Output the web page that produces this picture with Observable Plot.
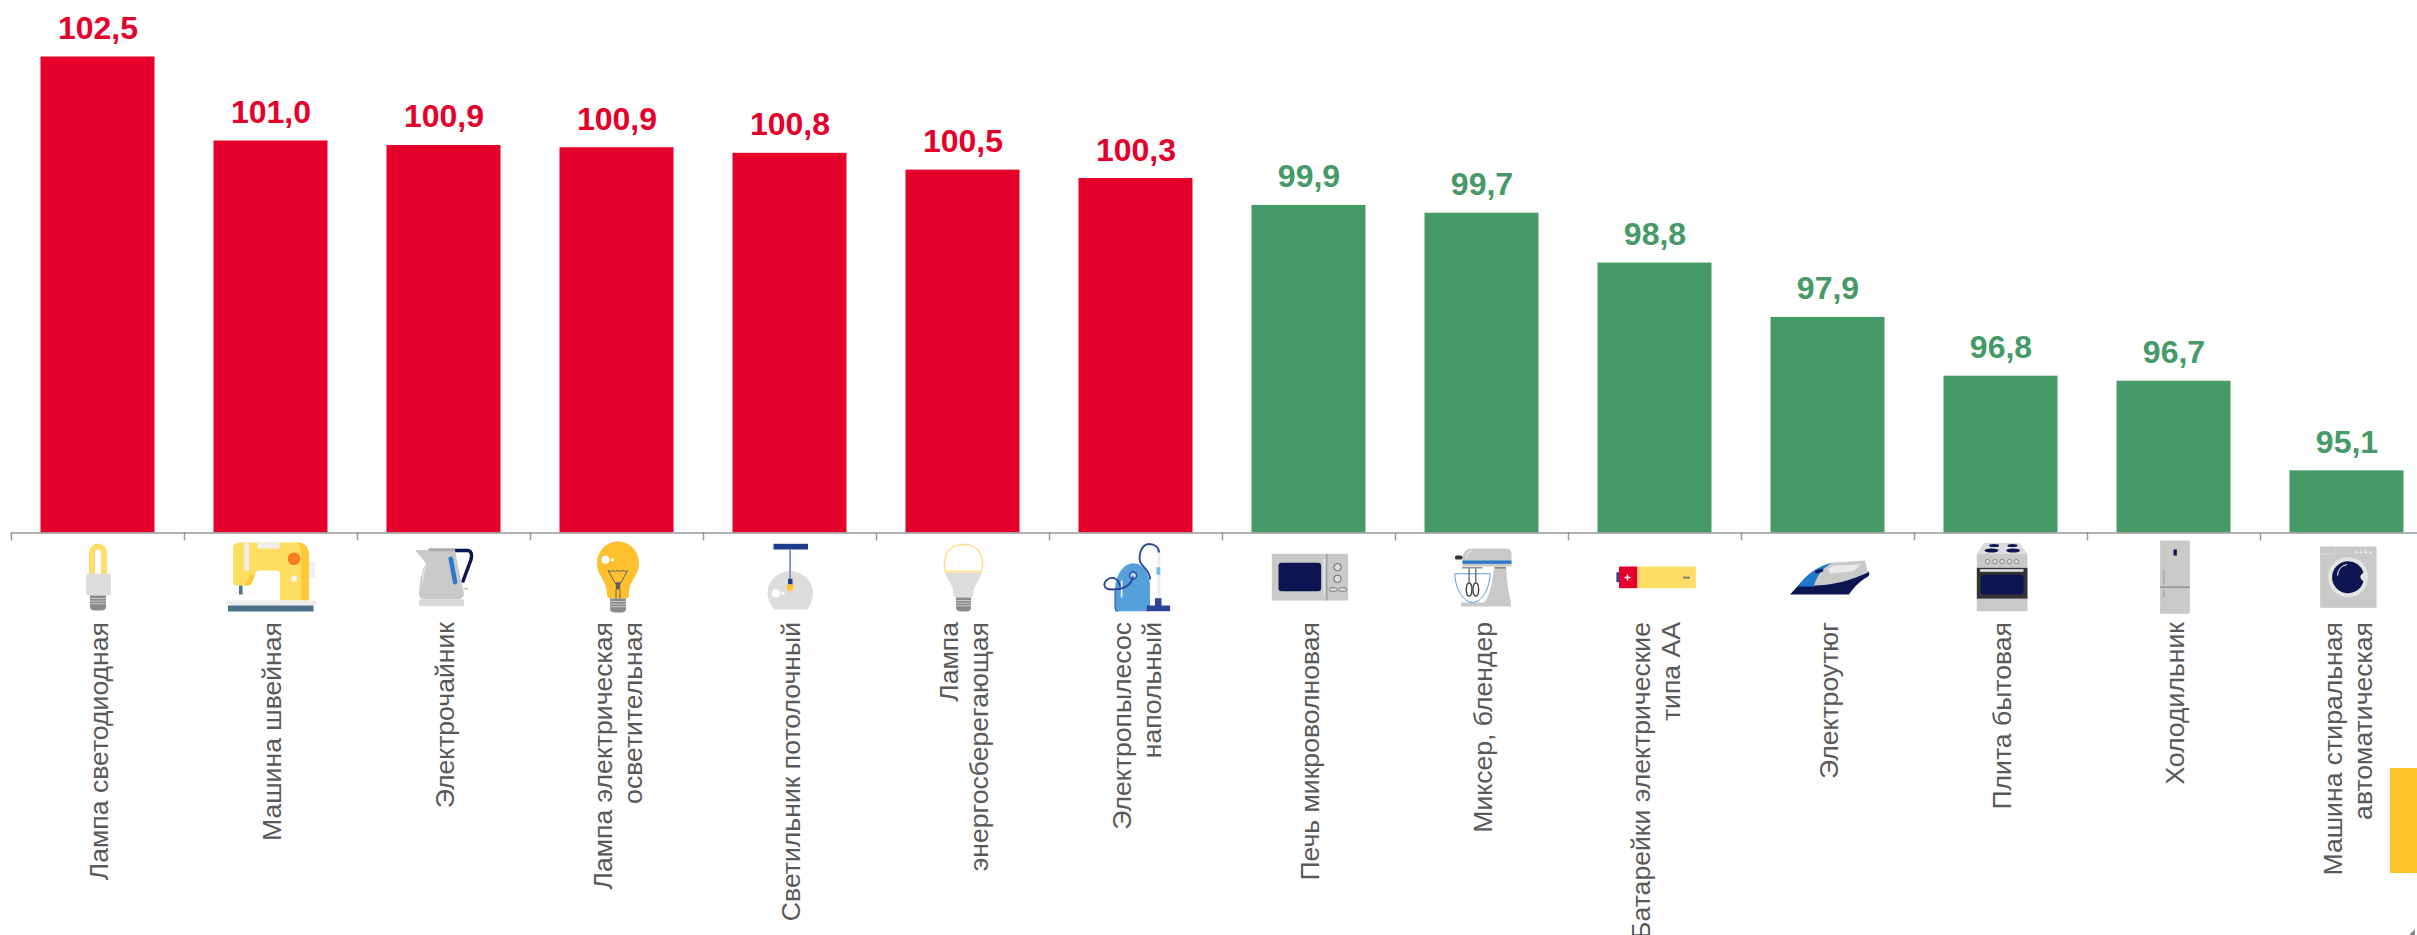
<!DOCTYPE html>
<html lang="ru">
<head>
<meta charset="utf-8">
<title>Индексы цен на электротовары</title>
<script src="https://cdn.jsdelivr.net/npm/d3@7"></script>
<script src="https://cdn.jsdelivr.net/npm/@observablehq/plot@0.6"></script>
<style>
html,body{margin:0;padding:0;background:#fff;overflow:hidden;width:2417px;height:935px}
#chart{position:absolute;left:0;top:0}
#chart svg{display:block;background:#fff}
.tab{position:absolute;left:2390px;top:768px;width:27px;height:105px;background:#FFC32B}
.corner{position:absolute;left:2409px;top:929px;width:6px;height:6px;background:#8a8a8a;clip-path:polygon(100% 0,100% 100%,0 100%)}
</style>
</head>
<body>
<div id="chart"></div>
<div class="tab"></div>
<div class="corner"></div>
<script>
const categories = [
  "Лампа светодиодная",
  "Машина швейная",
  "Электрочайник",
  "Лампа электрическая\nосветительная",
  "Светильник потолочный",
  "Лампа\nэнергосберегающая",
  "Электропылесос\nнапольный",
  "Печь микроволновая",
  "Миксер, блендер",
  "Батарейки электрические\nтипа АА",
  "Электроутюг",
  "Плита бытовая",
  "Холодильник",
  "Машина стиральная\nавтоматическая"
];
const values = [102.5, 101.0, 100.92, 100.88, 100.78, 100.48, 100.33, 99.85, 99.71, 98.82, 97.85, 96.8, 96.71, 95.11];
const valueLabels = ["102,5","101,0","100,9","100,9","100,8","100,5","100,3","99,9","99,7","98,8","97,9","96,8","96,7","95,1"];

const G="#C9C9C7",L="#DEDDDC",N="#0C1550",B="#2A4593",Y="#FFDD66";
const screw=(x,y,w,h)=>{let s=`<path d="M${x} ${y}h${w}v${h-4}q0 4-5 4h-${w-10}q-5 0-5-4z" fill="#8a8a8a"/>`;
  for(let i=1;i<4;i++)s+=`<rect x="${x}" y="${y+i*2.6}" width="${w}" height="0.9" fill="#d0d0d0"/>`;return s;};
const icons = [
  // лампа светодиодная
  `<path d="M54 42V20a6 6 0 0 1 12 0V42" fill="none" stroke="${Y}" stroke-width="6"/><rect x="48" y="41" width="25" height="22" rx="3" fill="${L}"/>${screw(52,63,16,15)}`,
  // машина швейная
  `<path d="M28 10H86Q98 10 98 24V68H69V42Q69 38 65 38H48Q45 38 44 42L41 50Q40 53 36 53H26Q22 53 22 49V16Q22 10 28 10Z" fill="#FFDD60"/><path d="M86 10Q98 10 98 24V68H90.500V24Q90 14 86 10Z" fill="#FFC933"/><path d="M44 42L41 50Q40 53 36 53H33Q37 50 39 42Z" fill="#FFC933"/><rect x="33" y="10" width="5" height="28" fill="#eee"/><rect x="46.500" y="10" width="22" height="6" fill="#eee"/><rect x="98" y="29" width="6" height="16" fill="#f0f0f0"/><circle cx="83" cy="26.300" r="6.300" fill="#FC7B1B"/><circle cx="83" cy="46.300" r="3" fill="#f2f2f2"/><rect x="28" y="53" width="3.500" height="9" fill="#4A7488"/><rect x="14" y="68" width="92" height="5" rx="2.500" fill="#EEE"/><rect x="17" y="73" width="85.500" height="6" fill="#4B7388"/>`,
  // электрочайник
  `<path d="M71 18H84Q89 19 87 27L78.500 50" fill="none" stroke="${N}" stroke-width="3.500"/><path d="M31 17.500H71Q75 40 80 60Q80 67 74 67H41Q35 67 35 60Q37 38 42 31Z" fill="${G}"/><rect x="44.500" y="15.700" width="26.500" height="3" rx="1" fill="#aaa"/><rect x="35" y="67" width="45" height="6.700" fill="#d8d8d8"/><path d="M66.800 26.300L71.100 49.700" stroke="#2A78C9" stroke-width="4.500" stroke-linecap="round"/><path d="M42 32Q39 40 38.500 50" fill="none" stroke="#eee" stroke-width="1"/><rect x="80.500" y="55.800" width="3.500" height="1" fill="#6BBF4A"/>`,
  // лампа электрическая
  `<path d="M61 9C73 9 82 19 82 31C82 44 72 47 72 62Q72 66 68 66H54Q50 66 50 62C50 47 40 44 40 31C40 19 49 9 61 9Z" fill="#FFC02F"/>${screw(53,66,16,14)}<circle cx="48.500" cy="27.300" r="4" fill="#fff"/><circle cx="55.500" cy="27.300" r="1.500" fill="#fff"/><path d="M51 38l2.500 1 2.500-1 2.500 1 2.500-1 2.500 1 2.500-1 2.500 1 1-1M51 38L59 52M70.500 38L63 52M59 57V66M63 57V66" fill="none" stroke="#5f5f5f" stroke-width="1"/><rect x="58.800" y="49.700" width="4.300" height="7.300" fill="#5f5f5f"/>`,
  // светильник потолочный
  `<path d="M44 77Q37.500 68 37.500 61C37.500 48 48 38.700 60.300 38.700C72.500 38.700 83 48 83 61Q83 68 77.500 77Z" fill="${L}"/><rect x="43.500" y="11.300" width="34.500" height="5.700" fill="#1F3D8A"/><rect x="59.300" y="17" width="1.600" height="31" fill="#6F86BB"/><rect x="58" y="46.300" width="4.500" height="6" fill="#1F3D8A"/><circle cx="60.100" cy="55" r="3.500" fill="#FFC02F"/><circle cx="46.100" cy="60.700" r="4.300" fill="#fff"/><circle cx="53.100" cy="60.700" r="1.500" fill="#fff"/>`,
  // лампа энергосберегающая
  `<path d="M42.100 39.700H78.800C76 50 70.500 52 70.500 62Q70.500 65 67 65H54Q50.500 65 50.500 62C50.500 52 45 50 42.100 39.700Z" fill="${L}"/><path d="M42.500 39C40 30 41 11.800 60.500 11.800C80 11.800 81 30 78.500 39Z" fill="#fff" stroke="#FFE396" stroke-width="1.800"/>${screw(53,65,15,14)}`,
  // электропылесос
  `<rect x="81.500" y="18" width="2.800" height="48" fill="#eee"/><rect x="80.500" y="34.700" width="3.800" height="7.500" fill="#6CB8E6"/><path d="M39 78.700V58C39 42 48 30.700 57 30.700C68 30.700 74 42 74 54V78.700Z" fill="#559FDA"/><path d="M39 58V76Q39 78.700 42 78.700" fill="none" stroke="#2A4593" stroke-width="1"/><rect x="44.800" y="48" width="1.700" height="17" fill="#eee"/><circle cx="57.100" cy="43" r="3.500" fill="#fff" fill-opacity=".6" stroke="${B}" stroke-width="1.500"/><path d="M57 44C55 55 44 57 36 57C27 57 26 50 33 46C38 44 43 47 44 54" fill="none" stroke="${B}" stroke-width="1.800"/><path d="M74 47C75 40 68 35 65 31C62 26 64 12 73 11.500C79 11.500 83 15 83 20" fill="none" stroke="${B}" stroke-width="1.800"/><rect x="79" y="65.700" width="6.500" height="9" fill="${B}"/><rect x="70.800" y="73" width="23.300" height="5.700" fill="${B}"/>`,
  // печь микроволновая
  `<rect x="22.800" y="21.300" width="76.300" height="46.700" fill="${G}"/><rect x="29.500" y="30.300" width="42.600" height="28.400" rx="3" fill="${N}"/><rect x="74.300" y="26" width="1.500" height="37" fill="#e6e6e6"/><rect x="77" y="21.300" width="1.600" height="46.700" fill="#a5a5a5"/><circle cx="88.500" cy="34.700" r="3.700" fill="#ddd" stroke="#666"/><circle cx="88.500" cy="46.300" r="3.700" fill="#ddd" stroke="#666"/><rect x="80.500" y="55.300" width="7.700" height="3.400" rx="1.500" fill="#ddd" stroke="#666" stroke-width=".8"/><rect x="90" y="55.300" width="7.500" height="3.400" rx="1.500" fill="#ddd" stroke="#666" stroke-width=".8"/>`,
  // миксер
  `<path d="M72 34H84Q85 55 89 70V74H39V70H62Q70 60 72 34Z" fill="${G}"/><path d="M40.500 34V25Q42 16 50 16H84Q89.500 16 89.500 22V34Z" fill="${G}"/><path d="M44 26Q45 19 50 18.500" fill="none" stroke="#eee" stroke-width="1.200"/><rect x="40.500" y="28" width="49" height="3.300" fill="#2A78C9"/><rect x="33" y="23" width="7.500" height="4" rx="1.500" fill="#333"/><rect x="40" y="34.700" width="20.500" height="1.200" fill="#777"/><rect x="73" y="34.700" width="11" height="1.200" fill="#777"/><path d="M32.800 41.300H68.100C68 55 60 70 50.500 70C41 70 33 55 32.800 41.300Z" fill="#fff" stroke="#5A9BDC" stroke-width="1"/><path d="M47.100 36V50M53.800 36V50" stroke="#555" stroke-width="1.200"/><ellipse cx="47.100" cy="57" rx="2.800" ry="6.500" fill="#fff" stroke="#444" stroke-width="1.400"/><ellipse cx="53.800" cy="57" rx="2.800" ry="6.500" fill="#fff" stroke="#444" stroke-width="1.400"/>`,
  // батарейка
  `<rect x="21.400" y="39.700" width="3" height="10" fill="${B}"/><rect x="24" y="34" width="18.500" height="21.700" fill="#E4002B"/><rect x="42.500" y="34" width="58.300" height="21.700" fill="${Y}"/><path d="M29.500 45h6M32.500 42v6" stroke="#fff" stroke-width="1.500"/><rect x="88" y="44.200" width="7" height="1.800" fill="#777"/>`,
  // электроутюг
  `<path d="M22 62L34 49L46 53L100.800 39Q102 43 100 44C92 49 88 52 81 62Z" fill="${N}"/><path d="M29.500 54C38 42 50 33 66 29.700C56 34 50 42 46 54Z" fill="#1F78CC"/><path d="M46 53C50 40 58 33 66 30L97 28L100 40C85 47 65 53 46 53Z" fill="${G}"/><path d="M60 37Q63 33 68 33L92 32Q88 38 84 39L62 41Z" fill="#E8E8E8"/><rect x="47" y="37" width="8" height="3" fill="${N}" transform="rotate(-15 51 38)"/>`,
  // плита
  `<path d="M43 10.300H78L86.500 21.300H35.800Z" fill="${L}"/><rect x="35.800" y="21.300" width="50.700" height="14" fill="${G}"/><ellipse cx="53.100" cy="13" rx="5" ry="1.500" fill="${N}"/><ellipse cx="71.500" cy="13" rx="5" ry="1.500" fill="${N}"/><ellipse cx="50.500" cy="18" rx="7" ry="2" fill="${N}"/><ellipse cx="72.100" cy="18" rx="7" ry="2" fill="${N}"/>${[46.5,53.8,61.1,68.5,75.5].map(x=>`<circle cx="${x}" cy="29" r="2.200" fill="#ddd" stroke="#777" stroke-width=".8"/>`).join("")}<rect x="35.800" y="35.300" width="50.700" height="31" fill="#333"/><rect x="39" y="36.700" width="43.500" height="2.600" fill="#ddd"/><rect x="39.800" y="42.300" width="42.700" height="19.700" rx="3" fill="${N}"/><rect x="35.800" y="66.300" width="50.700" height="12.400" fill="${G}"/>`,
  // холодильник
  `<rect x="46.100" y="8" width="29.700" height="73.300" fill="${G}"/><rect x="46.100" y="54" width="29.700" height="1.300" fill="#888"/><rect x="59.500" y="17" width="3.300" height="6" fill="${N}"/><rect x="49.300" y="37.300" width="1" height="15" fill="#999"/><rect x="49.300" y="57" width="1" height="7.700" fill="#999"/>`,
  // машина стиральная
  `<rect x="33.100" y="14" width="56.400" height="61.300" fill="${G}"/><path d="M33.100 21.500H46Q48.800 21.500 48.800 19V14" fill="none" stroke="#ddd" stroke-width=".8"/>${[69.5,74.1,78.8,83.5].map(x=>`<circle cx="${x}" cy="19.700" r="1.200" fill="#eee"/>`).join("")}<circle cx="61.100" cy="44.700" r="20" fill="#E5E5E5"/><path d="M61 28.700A16 16 0 1 0 76.500 49Q70 44.700 76.500 40A16 16 0 0 0 61 28.700Z" fill="${N}"/><path d="M50.500 43Q51 34 60 32" fill="none" stroke="#fff" stroke-width="1"/>`
];

const iconSrc = s => "data:image/svg+xml," + encodeURIComponent(
  `<svg xmlns="http://www.w3.org/2000/svg" viewBox="0 0 120 90" width="120" height="90">${s}</svg>`);

const rows = categories.map((name, i) => ({
  name, value: values[i], label: valueLabels[i], icon: iconSrc(icons[i]),
  group: values[i] >= 100 ? "рост" : "снижение"
}));

const base = 94;
const font = "Liberation Sans, Arial, sans-serif";

const chart = Plot.plot({
  width: 2417,
  height: 935,
  marginTop: 0, marginRight: 0, marginBottom: 402, marginLeft: 10.7,
  style: {fontFamily: font, background: "#fff"},
  x: {type: "band", domain: categories, range: [10.7, 2432.7], padding: 0, axis: null},
  y: {domain: [base, 103.5], range: [532.5, 0.5], axis: null},
  color: {domain: ["рост", "снижение"], range: ["#E4002B", "#459A67"]},
  marks: [
    Plot.barY(rows, {x: "name", y1: base, y2: "value", fill: "group", insetLeft: 29.5, insetRight: 29.5}),
    Plot.ruleY([base], {stroke: "#999", strokeWidth: 1.5}),
    Plot.ruleX(rows, {x: "name", y1: base, y2: base - 8 / 56, dx: -86.5, stroke: "#999", strokeWidth: 1.5}),
    Plot.text(rows, {x: "name", y: "value", text: "label", fill: "group", dy: -18,
      lineAnchor: "bottom", fontSize: 32, fontWeight: 700, fontFamily: font}),
    Plot.image(rows, {x: "name", y: () => base, src: "icon", width: 120, height: 90, dy: 44.5}),
    Plot.text(rows, {x: "name", y: () => base, text: "name", rotate: -90, dy: 89,
      textAnchor: "end", lineAnchor: "middle", lineHeight: 1.13, fontSize: 26.6,
      fill: "#595959", fontFamily: font})
  ]
});
document.getElementById("chart").appendChild(chart);
</script>
</body>
</html>
